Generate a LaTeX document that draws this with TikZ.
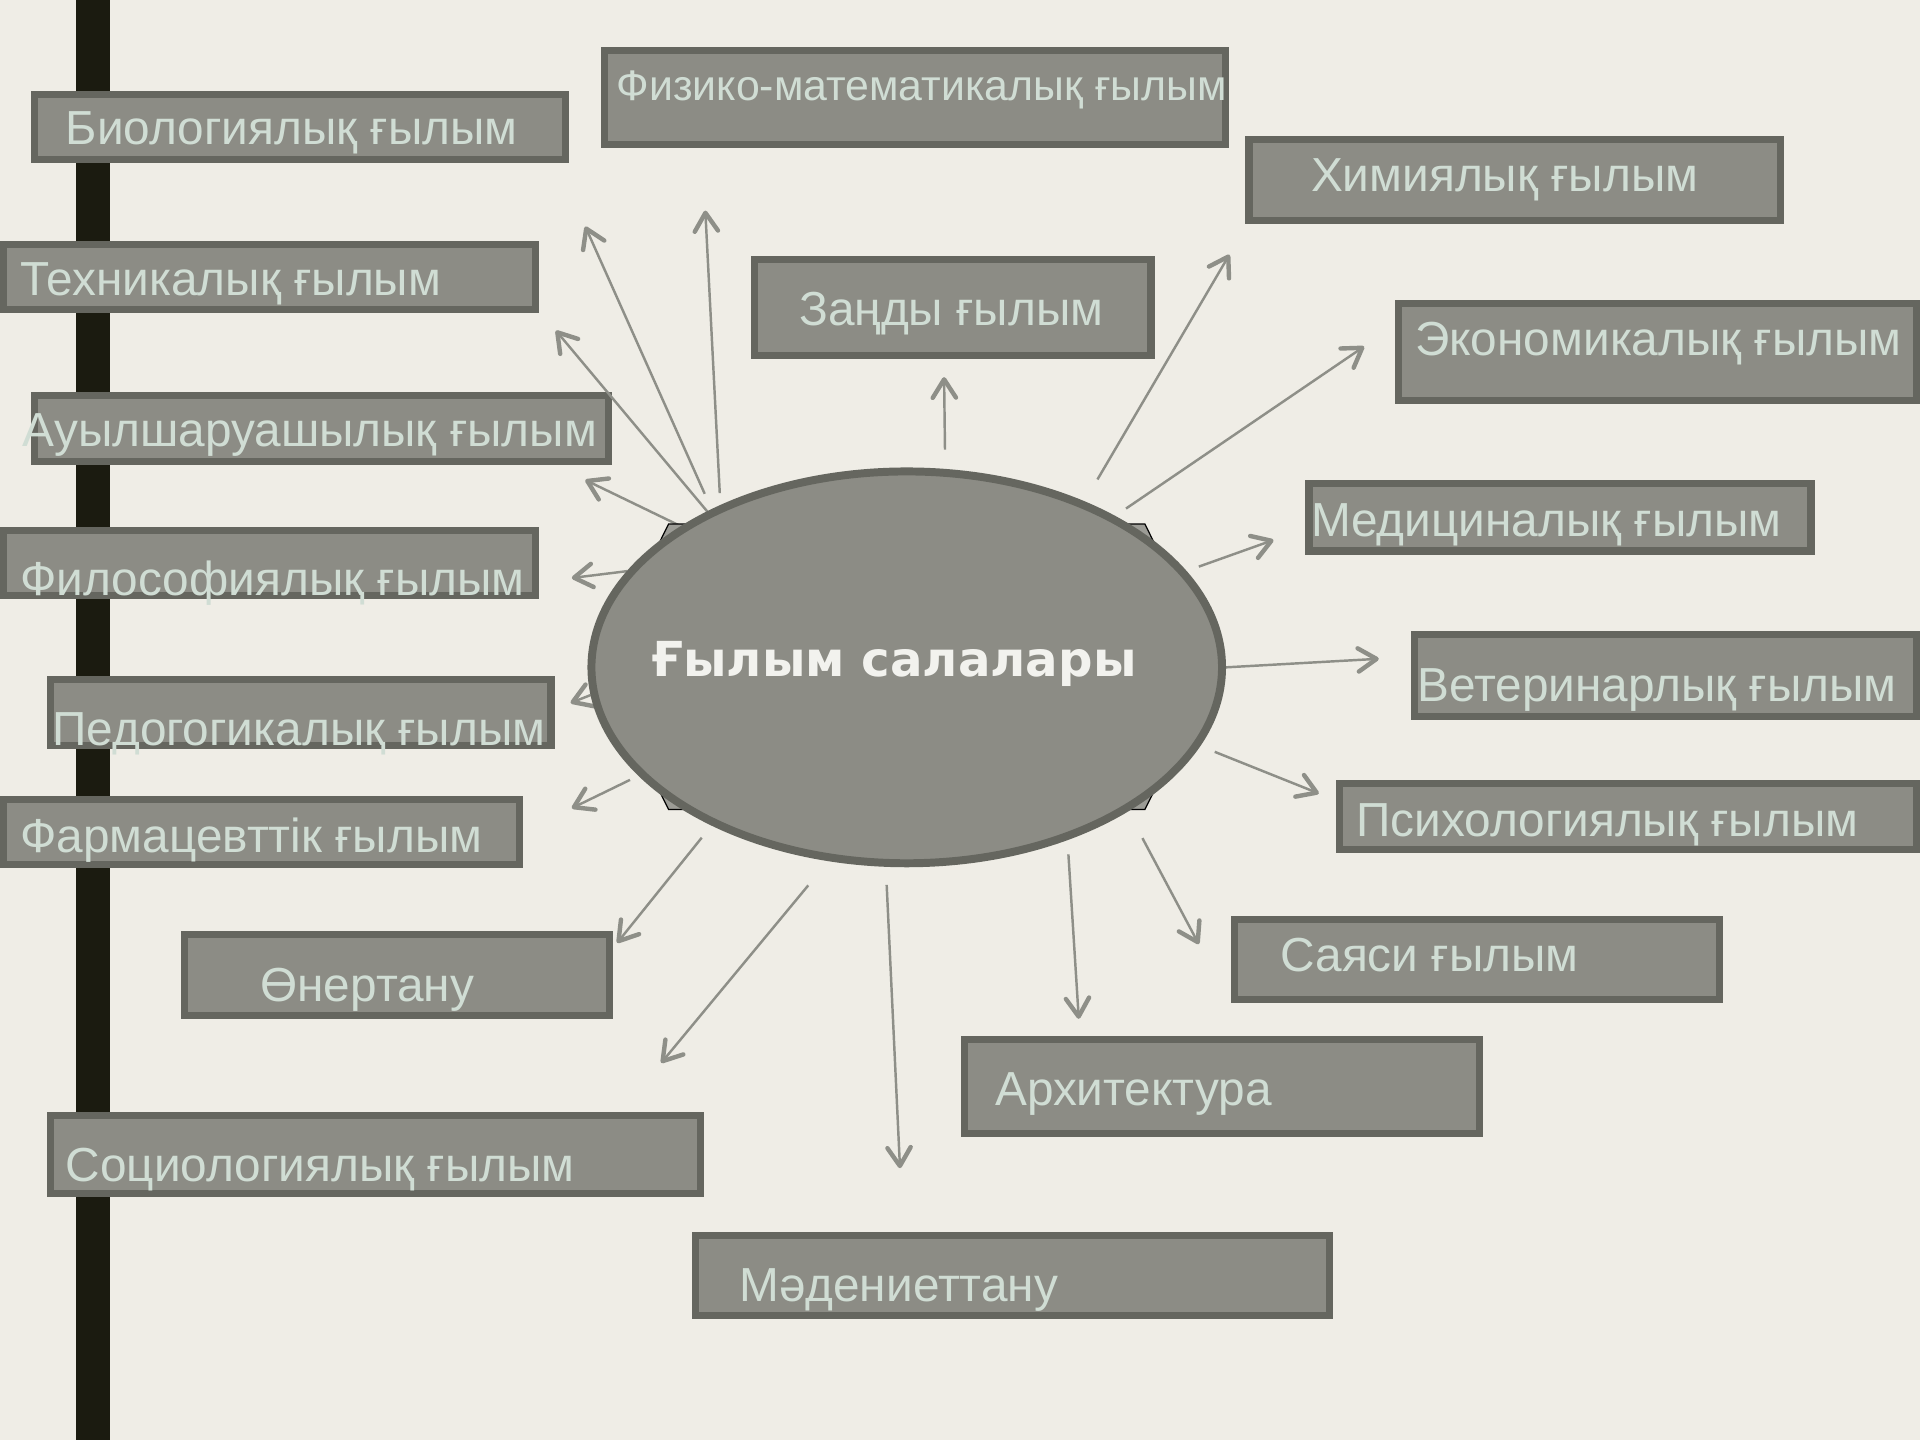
\documentclass[tikz,border=0pt]{standalone}
\usepackage{fontspec}
\setmainfont{Liberation Sans}
\newfontfamily\titlefont{DejaVu Sans}
\usetikzlibrary{arrows.meta,shapes.geometric}
\definecolor{bgc}{HTML}{EFEDE6}
\definecolor{barc}{HTML}{1B1B10}
\definecolor{boxfill}{HTML}{8C8C85}
\definecolor{boxline}{HTML}{65665F}
\definecolor{txt}{HTML}{D0DDD4}
\definecolor{arrc}{HTML}{8E8F88}
\definecolor{hexfill}{HTML}{9C9C96}
\definecolor{titletxt}{HTML}{F2F2EE}
\begin{document}
\begin{tikzpicture}[x=0.1mm,y=-0.1mm,
    box/.style={draw=boxline,fill=boxfill,line width=0.58mm},
    lbl/.style={anchor=base west,inner sep=0,text=txt,font=\fontsize{11.1}{13}\selectfont},
    arr/.style={draw=arrc,line width=0.2mm,-{Straight Barb[length=1.5mm,width=1.9mm,line width=0.36mm,round]}}]
        \useasboundingbox (0,0) rectangle (1568,1176);
        \fill[bgc] (0,0) rectangle (1568,1176);
        \fill[barc] (62,0) rectangle (90,1176);
        \draw[box] (28,77) rectangle (462,130);
        \draw[box] (494,41) rectangle (1001,118);
        \draw[box] (1020,114) rectangle (1454,180);
        \draw[box] (3,200) rectangle (437,253);
        \draw[box] (616,212) rectangle (940,290);
        \draw[box] (1142,248) rectangle (1565,327);
        \draw[box] (28,323) rectangle (497,377);
        \draw[box] (1069,395) rectangle (1479,450);
        \draw[box] (3,433) rectangle (437,486);
        \draw[box] (1155,518) rectangle (1565,585);
        \draw[box] (41,555) rectangle (450,609);
        \draw[box] (1094,640) rectangle (1565,694);
        \draw[box] (3,653) rectangle (424,706);
        \draw[box] (1008,751) rectangle (1404,816);
        \draw[box] (151,763) rectangle (498,829);
        \draw[box] (788,849) rectangle (1208,926);
        \draw[box] (41,911) rectangle (572,975);
        \draw[box] (568,1009) rectangle (1086,1074);
        \node[lbl] (bio) at (53,118) {Биологиялық ғылым};
        \node[lbl,font=\fontsize{9.95}{12}\selectfont] (fizmat) at (503,82) {Физико-математикалық ғылым};
        \node[lbl] (khim) at (1070,156) {Химиялық ғылым};
        \node[lbl] (tekh) at (16,241) {Техникалық ғылым};
        \node[lbl] (zan) at (652,266) {Заңды ғылым};
        \node[lbl] (ekon) at (1155,290) {Экономикалық ғылым};
        \node[lbl] (auyl) at (18,365) {Ауылшаруашылық ғылым};
        \node[lbl] (med) at (1070,438) {Медициналық ғылым};
        \node[lbl] (filos) at (16,486) {Философиялық ғылым};
        \node[lbl] (veter) at (1157,573) {Ветеринарлық ғылым};
        \node[lbl] (ped) at (42,609) {Педогогикалық ғылым};
        \node[lbl] (psikh) at (1107,683) {Психологиялық ғылым};
        \node[lbl] (farm) at (16,696) {Фармацевттік ғылым};
        \node[lbl] (sayasi) at (1045,793) {Саяси ғылым};
        \node[lbl] (oner) at (212,818) {Өнертану};
        \node[lbl] (arkh) at (812,903) {Архитектура};
        \node[lbl] (sots) at (53,965) {Социологиялық ғылым};
        \node[lbl] (madeniet) at (603,1063) {Мәдениеттану};
        \node[ellipse,minimum width=51.5mm,minimum height=32mm,inner sep=0,line width=0.6mm] (salalar) at (740.5,545) {};
        \coordinate (fizT) at (576,172);
        \coordinate (bioT) at (478,185);
        \coordinate (tekhT) at (454,270);
        \coordinate (auylT) at (478,392);
        \coordinate (filosT) at (467,472);
        \coordinate (pedT) at (466,574);
        \coordinate (farmT) at (467,660);
        \coordinate (onerT) at (504,770);
        \coordinate (sotsT) at (540,868);
        \coordinate (madT) at (735,954);
        \coordinate (arkhT) at (881,832);
        \coordinate (sayasiT) at (979,771);
        \coordinate (psikhT) at (1077,648);
        \coordinate (veterT) at (1126,538);
        \coordinate (medT) at (1040,441);
        \coordinate (ekonT) at (1114,283);
        \coordinate (khimT) at (1004,208);
        \coordinate (zanT) at (771,308);
        \draw[arr,shorten <=1mm] (salalar.139) -- (fizT);
        \draw[arr,shorten <=1.4mm] (salalar.141) -- (bioT);
        \draw[arr] (salalar.142) -- (tekhT);
        \draw[arr] (salalar.148) -- (auylT);
        \draw[arr] (salalar.161) -- (filosT);
        \draw[arr] (salalar.185) -- (pedT);
        \draw[arr,shorten <=0.8mm] (salalar.202) -- (farmT);
        \draw[arr,shorten <=1.3mm] (salalar.219) -- (onerT);
        \draw[arr,shorten <=2.6mm] (salalar.248) -- (sotsT);
        \draw[arr,shorten <=1.5mm] (salalar.264) -- (madT);
        \draw[arr,shorten <=1.2mm] (salalar.313) -- (arkhT);
        \draw[arr,shorten <=2.5mm] (salalar.327) -- (sayasiT);
        \draw[arr,shorten <=1.3mm] (salalar.345) -- (psikhT);
        \draw[arr] (salalar.0) -- (veterT);
        \draw[arr,shorten <=1.1mm] (salalar.19) -- (medT);
        \draw[arr,shorten <=1.1mm] (salalar.36) -- (ekonT);
        \draw[arr,shorten <=2.1mm] (salalar.43) -- (khimT);
        \draw[arr,shorten <=1.6mm] (salalar.79) -- (zanT);
        \draw[fill=hexfill,line width=0.1mm] (546,428) -- (935,428) -- (993,545) -- (935,661) -- (546,661) -- (488,545) -- cycle;
        \draw[draw=boxline,fill=boxfill,line width=0.65mm] (salalar.center) ellipse (257.5 and 160);
        \node[anchor=base,text=titletxt,font=\titlefont\bfseries\fontsize{11.2}{13}\selectfont] (title) at (730,552.6) {Ғылым салалары};
\end{tikzpicture}
\end{document}
